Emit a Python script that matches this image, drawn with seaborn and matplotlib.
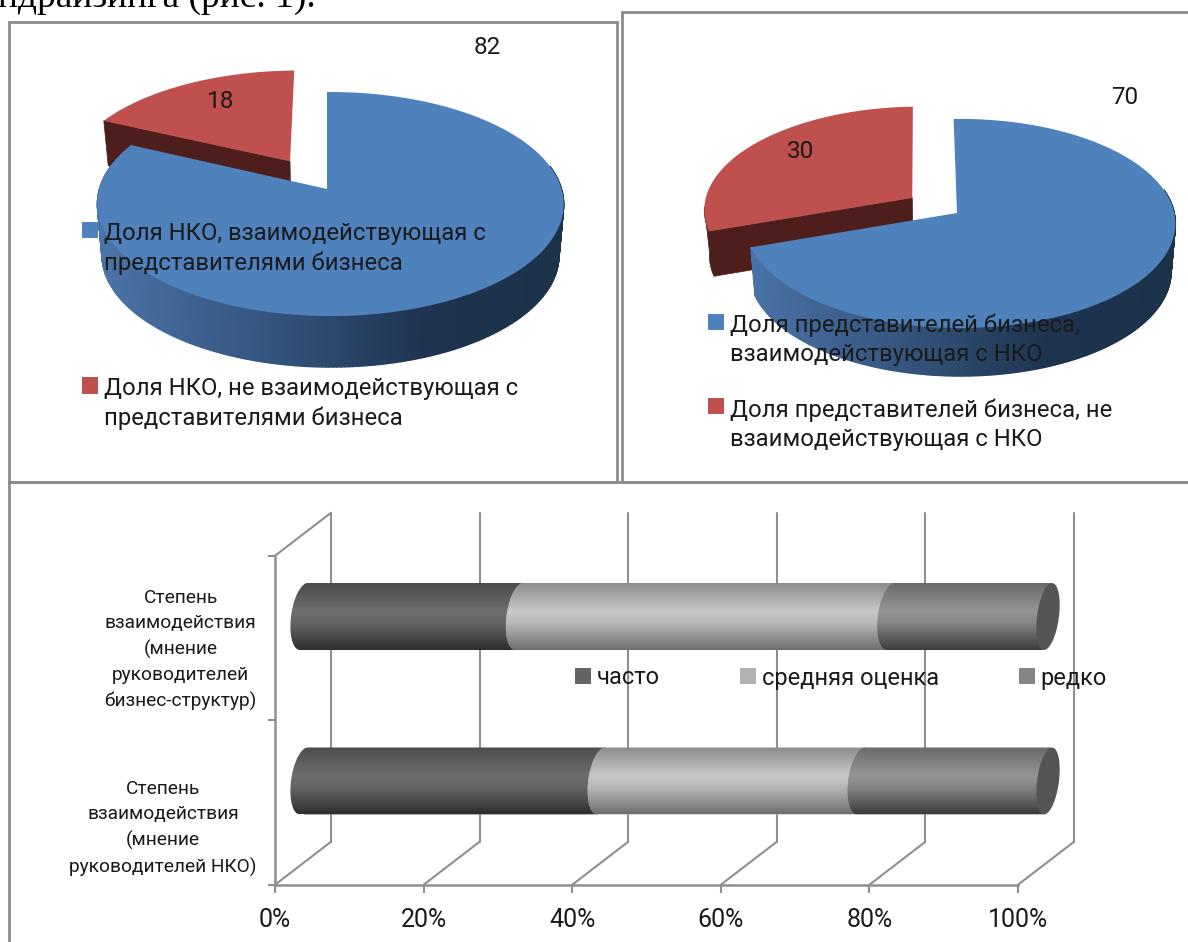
import numpy as np
import matplotlib
matplotlib.use("Agg")
import matplotlib.pyplot as plt
import matplotlib.transforms as mtransforms
from matplotlib.collections import PolyCollection
from matplotlib.colors import LinearSegmentedColormap
from matplotlib.patches import Patch, PathPatch, Rectangle
from matplotlib.path import Path
import seaborn as sns

# Shares of organisations, left pie
ngo_values = [82, 18]
ngo_labels = ["Доля НКО, взаимодействующая с\nпредставителями бизнеса",
              "Доля НКО, не взаимодействующая с\nпредставителями бизнеса"]

# Shares of companies, right pie
biz_values = [70, 30]
biz_labels = ["Доля представителей бизнеса,\nвзаимодействующая с НКО",
              "Доля представителей бизнеса, не\nвзаимодействующая с НКО"]

# Cooperation frequency, stacked bars
bar_categories = ["Степень\nвзаимодействия\n(мнение\nруководителей\nбизнес-структур)",
                  "Степень\nвзаимодействия\n(мнение\nруководителей НКО)"]
bar_series = ["часто", "средняя оценка", "редко"]
often_values = [29, 40]
medium_values = [50, 35]
rare_values = [21, 25]

W, H = 1188, 942
FONT = "Roboto"
BLUE, RED, MAROON = "#4f81bd", "#c0504d", "#4d1e1c"
GRID = "#8f8f8f"
TEXT = "#1a1a1a"
LABEL_PT = 17.2

sns.set_theme(style="white", rc={"font.family": FONT, "text.color": TEXT,
                                 "xtick.color": TEXT, "ytick.color": TEXT})
fig = plt.figure(figsize=(W / 100, H / 100), dpi=100, facecolor="white")


def fx(px):
    return px / W


def fy(py):
    return 1 - py / H


class PerspectiveMap(mtransforms.Transform):
    """Foreshortens a flat pie so that its near edge looks larger."""
    input_dims = 2
    output_dims = 2

    def __init__(self, k, m):
        super().__init__()
        self.k = k
        self.m = m

    def transform_non_affine(self, values):
        v = np.asarray(values, dtype=float)
        w = 1 + self.k * v[:, 1] + self.m * v[:, 0]
        return np.column_stack([v[:, 0] / w, v[:, 1] / w])

    def transform_path_non_affine(self, path):
        # curves are sampled first, since control points do not survive a projective map
        samples = np.linspace(0, 1, 16)
        pts = [curve(samples) for curve, code in path.iter_bezier() if code != Path.MOVETO]
        return Path(self.transform_non_affine(np.vstack(pts)))


side_cmap = LinearSegmentedColormap.from_list(
    "rim", [(0, "#4a74a8"), (0.45, "#304e75"), (0.72, "#1e334f"), (1, "#1c3249")])


def top_align_legend(leg):
    """Lines each legend square up with the first line of its label."""
    for column in leg._legend_handle_box.get_children():
        for row in column.get_children():
            row.align = "top"
    for t in leg.get_texts():
        t.set_linespacing(1.33)


def draw_pie(values, labels, tip, half_w, half_h, k, explode, blue_depth, red_depth, start,
             value_pos, legend_anchor, legend_gap):
    ax = fig.add_axes([fx(tip[0] - half_w), fy(tip[1] + half_h), 2 * half_w / W, 2 * half_h / H])
    wedges = ax.pie(values, startangle=start, counterclock=False, colors=[BLUE, RED],
                    explode=[0, explode], radius=1)[0]
    ax.set_aspect("auto")
    ax.set_xlim(-1, 1)
    ax.set_ylim(-1, 1)
    persp = PerspectiveMap(k, -0.015)
    for w in wedges:
        w.set_transform(persp + ax.transData)
        w.set_clip_on(False)
        w.set_linewidth(0)
    wedges[0].set_zorder(1.0)
    wedges[1].set_zorder(0.3)

    def drop(pts, depth):
        return np.column_stack([pts[:, 0] * 0.98, pts[:, 1] - depth / half_h])

    turn = 90 - start

    # rim of the large slice, shaded from left to right
    sweep = 360 * values[0] / sum(values)
    theta = np.radians(np.linspace(78, sweep, 260) + turn)
    top = persp.transform_non_affine(np.column_stack([np.sin(theta), np.cos(theta)]))
    bottom = drop(top, blue_depth)
    quads = [np.vstack([top[i], top[i + 1], bottom[i + 1], bottom[i]]) for i in range(len(top) - 1)]
    shades = side_cmap((top[:-1, 0] + 1) / 2)
    rim = PolyCollection(quads, facecolors=shades, edgecolors=shades, linewidths=1.0,
                         zorder=0.5, clip_on=False)
    ax.add_collection(rim)

    # cut face and the short visible rim of the pulled-out slice
    mid = np.radians(sweep + (360 - sweep) / 2 + turn)
    shift = explode * np.array([np.sin(mid), np.cos(mid)])
    rim_pts = np.radians(np.linspace(sweep, max(sweep, 266), 12) + turn)
    flat = np.vstack([[shift],
                      shift + np.column_stack([np.sin(rim_pts), np.cos(rim_pts)])])
    face = persp.transform_non_affine(flat)
    face_low = drop(face, red_depth)
    cut = np.vstack([face, face_low[::-1]])
    ax.add_patch(plt.Polygon(cut, closed=True, facecolor=MAROON, edgecolor=MAROON,
                             linewidth=0.5, zorder=0.2, clip_on=False))

    for v, pos in zip(values, value_pos):
        fig.text(fx(pos[0]), fy(pos[1]), str(v), ha="center", va="center", fontsize=17.5, zorder=5)

    handles = [Patch(facecolor=BLUE, edgecolor="none"), Patch(facecolor=RED, edgecolor="none")]
    leg = fig.legend(handles, labels, loc="upper left",
                     bbox_to_anchor=(fx(legend_anchor[0]), fy(legend_anchor[1])),
                     frameon=False, fontsize=LABEL_PT, labelspacing=legend_gap, handlelength=0.67,
                     handleheight=0.67, handletextpad=0.25, borderpad=0, borderaxespad=0)
    top_align_legend(leg)
    leg.set_zorder(6)


draw_pie(ngo_values, ngo_labels, (327, 189), 231, 110, 0.134, 0.31, 51, 45, 90,
         [(487, 47), (221, 101)], (82, 222), 4.3)
draw_pie(biz_values, biz_labels, (957, 213), 214, 103.5, 0.10, 0.26, 48, 45, 91,
         [(1125, 98), (801, 151)], (708, 314), 1.33)

# Lower panel: axes cover the whole panel, so the walls can sit behind the axis range
PX_PER_PCT = 7.43
PX_PER_CAT = 164.5
LEFT_X, ROW0_Y = 275, 638
panel = (9, 482, W, H)
ax = fig.add_axes([fx(panel[0]), fy(panel[3]), (panel[2] - panel[0]) / W, (panel[3] - panel[1]) / H])
ax.patch.set_alpha(0)

often = np.array(often_values, dtype=float)
stacked = [often, often + np.array(medium_values), often + np.array(medium_values) + np.array(rare_values)]
base_colors = ["#636363", "#b2b2b2", "#858585"]
BAR_SHARE = 67 / PX_PER_CAT
new_rects = []
for i in (2, 1, 0):
    before = len(ax.patches)
    sns.barplot(x=stacked[i], y=bar_categories, orient="y", color=base_colors[i], saturation=1,
                width=BAR_SHARE, ax=ax)
    new_rects.append((i, ax.patches[before:]))

xlim = ((panel[0] - LEFT_X) / PX_PER_PCT, (panel[2] - LEFT_X) / PX_PER_PCT)
ylim = ((panel[3] - ROW0_Y) / PX_PER_CAT, (panel[1] - ROW0_Y) / PX_PER_CAT)

DEPTH_X, DEPTH_Y = 56 / PX_PER_PCT, 43 / PX_PER_CAT
BAR_SHIFT_X = 29 / PX_PER_PCT
FLOOR, CEIL = 1.5, -0.5

# back wall lines and the slanted floor lines
for x in range(0, 101, 20):
    ax.plot([x + DEPTH_X] * 2, [FLOOR - DEPTH_Y, CEIL - DEPTH_Y], color=GRID, lw=1.5, zorder=1)
    ax.plot([x, x + DEPTH_X], [FLOOR, FLOOR - DEPTH_Y], color=GRID, lw=1.5, zorder=1)
ax.plot([0, DEPTH_X], [CEIL, CEIL - DEPTH_Y], color=GRID, lw=1.5, zorder=1)

gradients = [
    ["#4c4c4c", "#6e6e6e", "#656565", "#2e2e2e"],
    ["#8c8c8c", "#c8c8c8", "#b8b8b8", "#6e6e6e"],
    ["#6a6a6a", "#959595", "#858585", "#3c3c3c"],
]

RX = 13 / PX_PER_PCT
SKEW = 4 / PX_PER_PCT
t = np.linspace(np.pi / 2, 3 * np.pi / 2, 40)

for i, rects in new_rects[::-1]:
    cmap = LinearSegmentedColormap.from_list(f"tube{i}", list(zip([0, 0.42, 0.6, 1], gradients[i])))
    for row, rect in enumerate(rects):
        start = 0 if i == 0 else float(stacked[i - 1][row])
        end = float(stacked[i][row])
        cx0 = start + BAR_SHIFT_X
        cx1 = end + BAR_SHIFT_X
        rect.set_x(rect.get_x() + BAR_SHIFT_X)
        rect.set_y(rect.get_y() - DEPTH_Y / 2)
        y0, hgt = rect.get_y(), rect.get_height()
        yc = y0 + hgt / 2
        ys = yc - np.sin(t) * hgt / 2
        xs = cx0 + np.cos(t) * RX + np.sin(t) * SKEW
        outline = np.vstack([np.column_stack([xs, ys]),
                             [[cx1 - SKEW, y0 + hgt], [cx1 + SKEW, y0]]])
        shape = PathPatch(Path(np.vstack([outline, outline[0]]), closed=True),
                          transform=ax.transData, facecolor="none", edgecolor="none")
        ax.add_patch(shape)
        rect.set_zorder(2 + i)
        rect.set_linewidth(0)
        rect.set_clip_path(shape)
        img = ax.imshow(np.linspace(0, 1, 128)[:, None], cmap=cmap, aspect="auto",
                        extent=[cx0 - RX - SKEW, cx1 + SKEW, y0 + hgt, y0], zorder=2.1 + i,
                        interpolation="bilinear")
        img.set_clip_path(shape)
        if i == 2:
            a = np.linspace(0, 2 * np.pi, 80)
            cap_x = cx1 + (np.cos(a) * 11 + 1) / PX_PER_PCT + np.sin(a) * SKEW
            cap_y = yc - np.sin(a) * hgt / 2
            ax.fill(cap_x, cap_y, color="#555555", lw=0, zorder=5)

ax.set_xlim(*xlim)
ax.set_ylim(*ylim)
ax.set_xlabel("")
ax.set_ylabel("")

for side in ("top", "right"):
    ax.spines[side].set_visible(False)
ax.spines["left"].set_position(("data", 0))
ax.spines["left"].set_bounds(CEIL, FLOOR)
ax.spines["bottom"].set_position(("data", FLOOR))
ax.spines["bottom"].set_bounds(0, 100)
for side in ("left", "bottom"):
    ax.spines[side].set_color(GRID)
    ax.spines[side].set_linewidth(1.8)

ax.set_xticks(range(0, 101, 20), [f"{v}%" for v in range(0, 101, 20)])
ax.set_yticks([CEIL, 0.5, FLOOR], ["", "", ""])
ax.set_yticks([0, 1], bar_categories, minor=True)
ax.tick_params(axis="x", length=6, width=1.5, color=GRID, labelsize=18, pad=11, bottom=True)
ax.tick_params(axis="y", which="major", length=5, width=1.5, color=GRID, left=True)
ax.tick_params(axis="y", which="minor", length=0, labelsize=13.75, pad=13)

for label, drop_px in zip(ax.get_yticklabels(minor=True), (6, 20)):
    label.set_multialignment("center")
    label.set_linespacing(1.5)
    label.set_transform(label.get_transform() + mtransforms.Affine2D().translate(0, -drop_px))

handles = [Patch(facecolor=c, edgecolor="none") for c in base_colors]
leg = fig.legend(handles, bar_series, loc="center left", bbox_to_anchor=(fx(575), fy(678)), ncol=3,
                 frameon=False, fontsize=17, handlelength=0.67, handleheight=0.67, handletextpad=0.25,
                 columnspacing=3.4, borderpad=0, borderaxespad=0)
leg.set_zorder(7)

# Panel borders
for x0, y0, x1, y1 in [(9, 22, 617, 482), (622, 12, W + 10, 482), (9, 482, W + 10, H + 10)]:
    fig.add_artist(Rectangle((fx(x0), fy(y1)), (x1 - x0) / W, (y1 - y0) / H, transform=fig.transFigure,
                             facecolor="none", edgecolor="#8c8c8c", linewidth=2.0, zorder=10))

# Line of the surrounding text, running off the top of the page
fig.text(fx(-2), fy(7), "ндрайзинга (рис. 1).", family="Liberation Serif", fontsize=27, color="black",
         ha="left", va="baseline")

fig.savefig("out.png", dpi=100, facecolor="white")
